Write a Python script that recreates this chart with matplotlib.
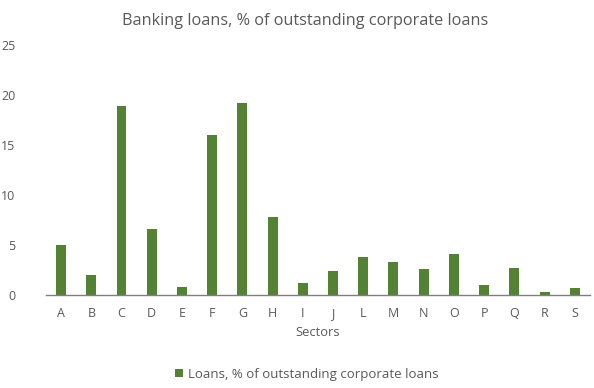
import matplotlib
matplotlib.use("Agg")
import matplotlib.pyplot as plt

sectors = ["A", "B", "C", "D", "E", "F", "G", "H", "I", "J",
           "L", "M", "N", "O", "P", "Q", "R", "S"]
loans_pct = [5.0, 2.0, 18.9, 6.6, 0.8, 16.0, 19.2, 7.8, 1.2, 2.4,
             3.8, 3.3, 2.6, 4.1, 1.0, 2.7, 0.3, 0.7]
y_ticks = [0, 5, 10, 15, 20, 25]

plt.rcParams["font.family"] = ["Open Sans", "DejaVu Sans"]
text_col = "#595959"

fig = plt.figure(figsize=(5.94, 3.88), dpi=100)
ax = fig.add_axes([0.0774, 0.2397, 0.9156, 0.6443])

x = range(len(sectors))
ax.bar(x, loans_pct, width=0.33, color="#548235",
       label="Loans, % of outstanding corporate loans")

ax.set_xlim(-0.5, len(sectors) - 0.5)
ax.set_ylim(0, 25)
ax.set_yticks(y_ticks)
ax.set_xticks(list(x))
ax.set_xticklabels(sectors)
ax.tick_params(axis="both", length=0, labelsize=9, colors=text_col)
ax.tick_params(axis="x", pad=9)
ax.tick_params(axis="y", pad=22)

for side in ["top", "right", "left"]:
    ax.spines[side].set_visible(False)
ax.spines["bottom"].set_color("#7f7f7f")
ax.spines["bottom"].set_linewidth(1.0)

ax.set_xlabel("Sectors", fontsize=9.3, color=text_col, labelpad=4)
fig.text(0.513, 0.947, "Banking loans, % of outstanding corporate loans",
         ha="center", va="center", fontsize=11.7, color=text_col)

fig.legend(loc="center", bbox_to_anchor=(0.517, 0.035), frameon=False,
           fontsize=9.5, handlelength=0.6, handleheight=0.6,
           handletextpad=0.4, labelcolor=text_col)

fig.savefig("out.png", dpi=100)
